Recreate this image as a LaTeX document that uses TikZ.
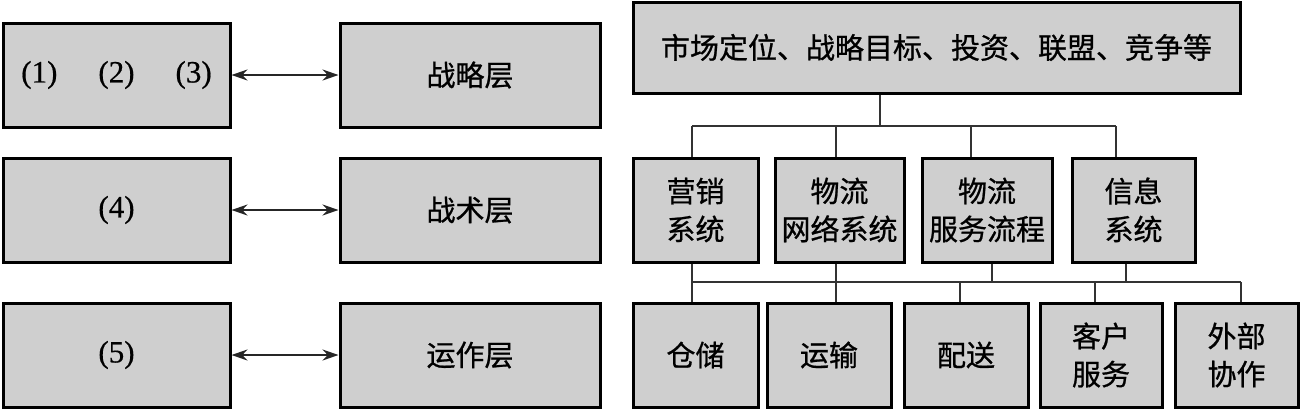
\documentclass[tikz,border=0pt]{standalone}
\usepackage{fontspec}
\setmainfont{Liberation Serif}
\newfontfamily\cjk[FakeBold=0.8]{Noto Sans CJK SC}
\newfontfamily\numfont[FakeBold=0.5]{Liberation Serif}
\usetikzlibrary{arrows.meta,calc}
\definecolor{boxgray}{HTML}{CFCFCF}
\tikzset{
  box/.style={draw=black, line width=3pt, fill=boxgray, rectangle, inner sep=0pt,
              align=center, font=\cjk\fontsize{29}{38}\selectfont},
  numbox/.style={box, font=\numfont\fontsize{31}{36}\selectfont},
  link/.style={draw=black!80, line width=1.8pt},
  dual/.style={draw=black!85, line width=2.2pt, {Stealth[length=16pt,width=11pt]}-{Stealth[length=16pt,width=11pt]}},
}
\begin{document}
\begin{tikzpicture}[x=1pt,y=-1pt]
\useasboundingbox (0,0) rectangle (1300,408);
% left column
\node[numbox, minimum width=227pt, minimum height=104pt] (L1) at (116.5,75) {(1)\hspace{41pt}(2)\hspace{41pt}(3)};
\node[numbox, minimum width=227pt, minimum height=104pt] (L2) at (116.5,210) {(4)};
\node[numbox, minimum width=227pt, minimum height=104pt] (L3) at (116.5,355) {(5)};
% middle column
\node[box, minimum width=260pt, minimum height=104pt] (M1) at (470,75) {战略层};
\node[box, minimum width=260pt, minimum height=104pt] (M2) at (470,210) {战术层};
\node[box, minimum width=260pt, minimum height=104pt] (M3) at (470,355) {运作层};
\draw[dual] (L1) -- (M1);
\draw[dual] (L2) -- (M2);
\draw[dual] (L3) -- (M3);
% right: top
\node[box, minimum width=607pt, minimum height=91pt] (T) at (936.5,47.5) {市场定位、战略目标、投资、联盟、竞争等};
% middle row
\node[box, minimum width=125pt, minimum height=104pt] (A) at (695.5,210) {营销\\系统};
\node[box, minimum width=129pt, minimum height=104pt] (B) at (839.5,210) {物流\\网络系统};
\node[box, minimum width=130pt, minimum height=104pt] (C) at (987,210) {物流\\服务流程};
\node[box, minimum width=123pt, minimum height=104pt] (D) at (1133.5,210) {信息\\系统};
% bottom row
\node[box, minimum width=125pt, minimum height=104pt] (E) at (695.5,355) {仓储};
\node[box, minimum width=124pt, minimum height=104pt] (F) at (829,355) {运输};
\node[box, minimum width=124pt, minimum height=104pt] (G) at (966,355) {配送};
\node[box, minimum width=122pt, minimum height=104pt] (H) at (1101,355) {客户\\服务};
\node[box, minimum width=123pt, minimum height=104pt] (I) at (1236.5,355) {外部\\协作};
% upper tree
\coordinate (j0) at (880,126);
\coordinate (ja) at (692,126);
\coordinate (jb) at (836,126);
\coordinate (jc) at (971,126);
\coordinate (jd) at (1116,126);
\draw[link] (T.south -| j0) -- (j0);
\draw[link] (ja) -- (jd);
\draw[link] (ja) -- (ja |- A.north);
\draw[link] (jb) -- (jb |- B.north);
\draw[link] (jc) -- (jc |- C.north);
\draw[link] (jd) -- (jd |- D.north);
% lower tree
\coordinate (ka) at (692,282);
\coordinate (kb) at (836,282);
\coordinate (kc) at (992,282);
\coordinate (kd) at (1126,282);
\coordinate (ke) at (960,282);
\coordinate (kf) at (1095,282);
\coordinate (kg) at (1241,282);
\draw[link] (ka) -- (kg);
\draw[link] (ka |- A.south) -- (ka);
\draw[link] (kb |- B.south) -- (kb);
\draw[link] (kc |- C.south) -- (kc);
\draw[link] (kd |- D.south) -- (kd);
\draw[link] (ka) -- (ka |- E.north);
\draw[link] (kb) -- (kb |- F.north);
\draw[link] (ke) -- (ke |- G.north);
\draw[link] (kf) -- (kf |- H.north);
\draw[link] (kg) -- (kg |- I.north);
\end{tikzpicture}
\end{document}
